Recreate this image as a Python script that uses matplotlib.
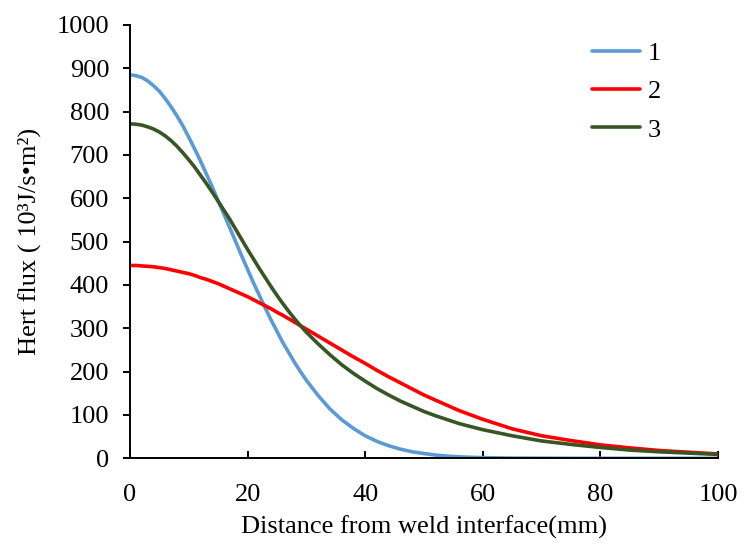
# Heat flux vs distance from weld interface, three cases

import matplotlib
matplotlib.use("Agg")
import matplotlib.pyplot as plt

# distance from weld interface (mm): fine steps where the curves bend most
distance = [0, 1, 2, 3, 4, 5, 6, 7, 8, 9, 10, 11, 12, 13, 14, 15, 16, 17, 18, 19, 20,
            21, 22, 23, 24, 25, 26, 27, 28, 29, 30,
            32, 34, 36, 38, 40, 42, 44, 46, 48, 50, 52, 54, 56, 58, 60,
            65, 70, 75, 80, 85, 90, 95, 100]

# heat flux (10^3 J/s.m2)
flux_1 = [885, 883, 879, 871, 860, 847, 830, 811, 790, 767, 741, 714, 686, 656, 626, 594,
          563, 531, 499, 467, 436, 405, 376, 347, 319, 293, 267, 244, 221, 200, 180,
          145, 114, 89, 69, 52, 39, 29, 21, 15, 11, 7.4, 5, 3.4, 2.3, 1.5,
          0.5, 0.2, 0, 0, 0, 0, 0, 0]
flux_2 = [445, 445, 444, 443, 442, 440, 438, 435, 432, 429, 426, 422, 417, 413, 408, 403,
          397, 391, 385, 379, 373, 366, 359, 352, 345, 337, 330, 322, 314, 306, 298,
          282, 266, 250, 234, 219, 203, 188, 174, 160, 146, 134, 122, 110, 100, 90,
          68, 52, 41, 31, 24, 18, 14, 10]
flux_3 = [772, 771, 769, 765, 760, 753, 744, 733, 720, 705, 689, 672, 653, 634, 614, 593,
          572, 551, 528, 505, 482, 460, 438, 417, 396, 376, 357, 339, 322, 306, 291,
          264, 239, 216, 196, 178, 161, 146, 132, 120, 108, 98, 89, 80, 73, 66,
          52, 40, 32, 25, 19, 15, 12, 9]

labels = ["1", "2", "3"]
colors = ["#5B9BD5", "#FF0000", "#375623"]

plt.rcParams["font.family"] = ["Liberation Serif", "DejaVu Serif"]

fig = plt.figure(figsize=(7.44, 5.48), dpi=100)
ax = fig.add_axes([0.1747, 0.1637, 0.7903, 0.7907])

for ys, lab, c in zip([flux_1, flux_2, flux_3], labels, colors):
    ax.plot(distance, ys, color=c, lw=2.6, label=lab, solid_capstyle="round",
            solid_joinstyle="round")

ax.set_xlim(0, 100)
ax.set_ylim(0, 1000)
ax.set_xticks(range(0, 101, 20))
ax.set_yticks(range(0, 1001, 100))

for side in ["top", "right"]:
    ax.spines[side].set_visible(False)
for side in ["left", "bottom"]:
    ax.spines[side].set_linewidth(1.4)
    ax.spines[side].set_color("black")

ax.tick_params(axis="x", direction="in", length=5, width=1.4, pad=18.5, labelsize=19)
ax.tick_params(axis="y", direction="out", length=5, width=1.4, pad=10, labelsize=19)

ax.set_xlabel("Distance from weld interface(mm)", fontsize=19, labelpad=7)
ax.set_ylabel("Hert flux ( 10\u00b3J/s\u2022m\u00b2)", fontsize=19, labelpad=11)

ax.legend(loc="upper left", bbox_to_anchor=(0.767, 0.986), borderaxespad=0,
          frameon=False, fontsize=19, handlelength=1.82, handletextpad=0.3,
          labelspacing=0.56)

fig.savefig("out.png", dpi=100)
